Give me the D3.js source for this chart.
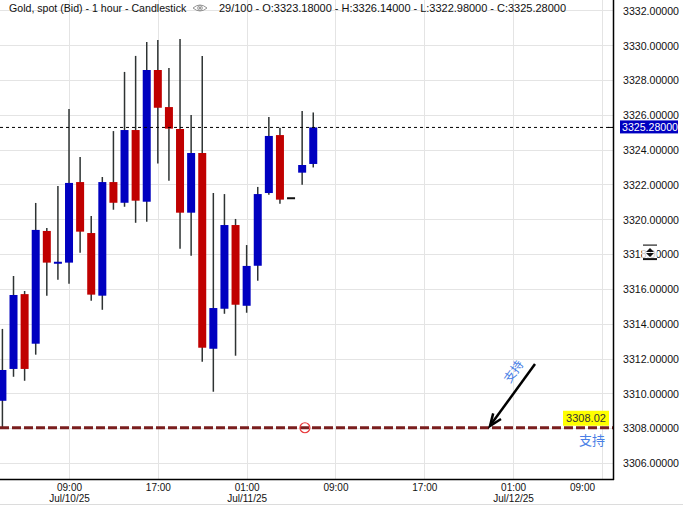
<!DOCTYPE html>
<html><head><meta charset="utf-8">
<script src="https://cdn.jsdelivr.net/npm/d3@7"></script>
<style>
html,body{margin:0;padding:0;background:#fff;}
svg{display:block;font-family:"Liberation Sans",Arial,sans-serif;}
</style></head>
<body><svg id="c" width="683" height="505"></svg>
<script>
// ---- data ----
const times = ["2025-07-10T03:00","2025-07-10T04:00","2025-07-10T05:00","2025-07-10T06:00","2025-07-10T07:00","2025-07-10T08:00","2025-07-10T09:00","2025-07-10T10:00","2025-07-10T11:00","2025-07-10T12:00","2025-07-10T13:00","2025-07-10T14:00","2025-07-10T15:00","2025-07-10T16:00","2025-07-10T17:00","2025-07-10T18:00","2025-07-10T19:00","2025-07-10T20:00","2025-07-10T21:00","2025-07-10T22:00","2025-07-10T23:00","2025-07-11T00:00","2025-07-11T01:00","2025-07-11T02:00","2025-07-11T03:00","2025-07-11T04:00","2025-07-11T05:00","2025-07-11T06:00","2025-07-11T07:00"];
const open  = [3309.57,3311.40,3315.70,3312.85,3319.33,3317.45,3317.51,3322.14,3319.21,3315.61,3322.14,3320.95,3325.13,3321.01,3328.58,3326.45,3325.19,3320.38,3323.81,3312.56,3314.86,3319.67,3315.03,3317.33,3321.51,3324.84,3321.21,3322.68,3323.18];
const high  = [3313.70,3316.74,3315.88,3320.94,3319.50,3321.91,3326.34,3323.58,3320.19,3322.43,3325.07,3328.47,3329.39,3330.19,3330.30,3328.70,3330.36,3325.99,3329.39,3321.51,3321.45,3320.02,3318.52,3321.86,3325.88,3325.26,3321.21,3326.22,3326.14];
const low   = [3308.05,3310.95,3310.72,3312.22,3315.61,3316.53,3316.30,3318.08,3315.32,3314.80,3320.55,3320.72,3319.80,3319.86,3323.20,3322.22,3318.31,3317.91,3311.82,3310.09,3314.57,3312.16,3314.63,3316.47,3321.41,3320.90,3321.21,3321.99,3322.98];
const close = [3311.34,3315.65,3311.40,3319.39,3317.51,3317.56,3322.09,3319.29,3315.67,3322.14,3320.95,3325.13,3321.07,3328.58,3326.41,3325.21,3320.38,3323.81,3312.62,3314.90,3319.67,3315.09,3317.32,3321.45,3324.79,3321.13,3321.21,3323.12,3325.28];
const yTicks = [3306,3308,3310,3312,3314,3316,3318,3320,3322,3324,3326,3328,3330,3332];
const xTicks = ["2025-07-10T09:00","2025-07-10T17:00","2025-07-11T01:00","2025-07-11T09:00","2025-07-11T17:00","2025-07-12T01:00","2025-07-12T09:00"];
const lastPrice = 3325.28;
const supportPrice = 3308.02;
const supportTime = "2025-07-11T06:15";
const headerA = "Gold, spot (Bid) - 1 hour - Candlestick";
const headerB = "29/100 - O:3323.18000 - H:3326.14000 - L:3322.98000 - C:3325.28000";
const supportText = "支持";

// ---- layout ----
const W = 613, H = 479;
const svg = d3.select("#c");
const parse = d3.timeParse("%Y-%m-%dT%H:%M");
const x = d3.scaleTime().domain([parse("2025-07-10T02:47"), parse("2025-07-12T10:00")]).range([0, W]);
const y = d3.scaleLinear().domain([3305.075, 3332.603]).range([H, 0]);
const data = times.map((t,i)=>({t:parse(t),o:open[i],h:high[i],l:low[i],c:close[i]}));

// grid
const g = svg.append("g");
g.selectAll(".hg").data(yTicks).join("line")
  .attr("x1",0).attr("x2",W).attr("y1",d=>Math.round(y(d))+0.5).attr("y2",d=>Math.round(y(d))+0.5)
  .attr("stroke","#e4e4e4").attr("stroke-width",1);
g.selectAll(".vg").data(xTicks.map(parse)).join("line")
  .attr("y1",0).attr("y2",H).attr("x1",d=>Math.round(x(d))+0.5).attr("x2",d=>Math.round(x(d))+0.5)
  .attr("stroke","#e4e4e4").attr("stroke-width",1);

// header
const hdr = svg.append("g").attr("font-size","10.6px").attr("fill","#111");
hdr.append("text").attr("x",9).attr("y",12).text(headerA);
// eye icon
const eye = hdr.append("g").attr("transform","translate(200,8)").attr("fill","none").attr("stroke","#888").attr("stroke-width",0.9);
eye.append("path").attr("d","M-7,0 Q0,-6 7,0 Q0,6 -7,0Z");
eye.append("circle").attr("r",2.3);
eye.append("circle").attr("r",0.8).attr("fill","#888");
hdr.append("text").attr("x",219).attr("y",12).attr("font-size","11px").attr("textLength",347).attr("lengthAdjust","spacing").text(headerB);

// candles
const bw = 8;
const cg = svg.append("g");
cg.selectAll(".wick").data(data).join("line")
  .attr("x1",d=>x(d.t)).attr("x2",d=>x(d.t)).attr("y1",d=>y(d.h)).attr("y2",d=>y(d.l))
  .attr("stroke","#2e3333").attr("stroke-width",1.5);
cg.selectAll(".body").data(data).join("rect")
  .attr("x",d=>x(d.t)-bw/2).attr("width",bw)
  .attr("y",d=>d.o===d.c ? y(d.o)-1 : y(Math.max(d.o,d.c)))
  .attr("height",d=>d.o===d.c ? 2 : Math.max(2, Math.abs(y(d.o)-y(d.c))))
  .attr("fill",d=>d.c>d.o ? "#0000c0" : (d.c<d.o ? "#c00000" : "#111"));

// last price dashed line
svg.append("line").attr("x1",0).attr("x2",W).attr("y1",y(lastPrice)).attr("y2",y(lastPrice))
  .attr("stroke","#000").attr("stroke-width",1).attr("stroke-dasharray","3,3");

// support line
svg.append("line").attr("x1",0).attr("x2",W).attr("y1",y(supportPrice)).attr("y2",y(supportPrice))
  .attr("stroke","#7a1e1e").attr("stroke-width",3).attr("stroke-dasharray","9,3");
svg.append("circle").attr("cx",x(parse(supportTime))).attr("cy",y(supportPrice)).attr("r",5)
  .attr("fill","none").attr("stroke","#e8383a").attr("stroke-width",1.2);
// yellow label
const sy = y(supportPrice);
svg.append("rect").attr("x",563).attr("y",sy-17).attr("width",46).attr("height",15).attr("fill","#ffff00");
svg.append("text").attr("x",586).attr("y",sy-5.5).attr("text-anchor","middle").attr("font-size","11px").attr("fill","#333").text(supportPrice.toFixed(2));
svg.append("text").attr("x",592).attr("y",sy+17).attr("text-anchor","middle").attr("font-size","13px").attr("fill","#4a7fe6")
  .attr("font-family","'Noto Sans CJK SC',sans-serif").text(supportText);

// arrow
const ax1=535, ay1=364, ax2=490, ay2=426;
svg.append("line").attr("x1",ax1).attr("y1",ay1).attr("x2",ax2+2).attr("y2",ay2-3).attr("stroke","#000").attr("stroke-width",2.5);
const ang = Math.atan2(ay2-ay1, ax2-ax1);
const hl = 13, ha = 0.38;
svg.append("path").attr("d",`M${ax2+hl*Math.cos(ang+Math.PI-ha)},${ay2+hl*Math.sin(ang+Math.PI-ha)} L${ax2},${ay2} L${ax2+hl*Math.cos(ang+Math.PI+ha)},${ay2+hl*Math.sin(ang+Math.PI+ha)}`)
  .attr("fill","none").attr("stroke","#000").attr("stroke-width",2.5);
svg.append("text").attr("transform",`translate(517,374) rotate(-54.5)`).attr("text-anchor","middle")
  .attr("font-size","12px").attr("fill","#4a7fe6").attr("font-family","'Noto Sans CJK SC',sans-serif").text(supportText);

// axes borders
svg.append("line").attr("x1",W+0.5).attr("x2",W+0.5).attr("y1",0).attr("y2",H+1).attr("stroke","#000").attr("stroke-width",1.5);
svg.append("line").attr("x1",0).attr("x2",W+1).attr("y1",H+0.5).attr("y2",H+0.5).attr("stroke","#000").attr("stroke-width",1.5);

// y axis labels
const yAxis = d3.axisRight(y).tickValues(yTicks).tickSize(0).tickPadding(0).tickFormat(d=>d.toFixed(5));
const ya = svg.append("g").attr("transform",`translate(623,0)`).call(yAxis);
ya.select(".domain").remove();
ya.selectAll("text").attr("font-size","10.6px").attr("fill","#111").attr("font-family","'Liberation Sans',Arial,sans-serif").attr("dy","0.35em");

// last price box
const ly = y(lastPrice);
svg.append("line").attr("x1",608).attr("x2",W).attr("y1",ly).attr("y2",ly).attr("stroke","#000");
svg.append("rect").attr("x",620).attr("y",ly-7).attr("width",58).attr("height",13).attr("fill","#0000c0");
svg.append("text").attr("x",622).attr("y",ly+4).attr("font-size","10.6px").attr("fill","#fff").text(lastPrice.toFixed(5));

// icon over 3318
const iy = y(3318);
svg.append("rect").attr("x",642).attr("y",iy-9).attr("width",15).attr("height",16).attr("fill","#fff").attr("opacity",0.75);
svg.append("line").attr("x1",643).attr("x2",657).attr("y1",iy-9).attr("y2",iy-9).attr("stroke","#222").attr("stroke-width",1.2);
svg.append("line").attr("x1",643).attr("x2",657).attr("y1",iy+5).attr("y2",iy+5).attr("stroke","#111").attr("stroke-width",2);
svg.append("path").attr("d",`M650,${iy-6} L654,${iy-2} L646,${iy-2}Z M646,${iy-1} L654,${iy-1} L650,${iy+3}Z`).attr("fill","#111");

// x axis labels
const xa = svg.append("g").attr("transform",`translate(0,${H})`)
  .call(d3.axisBottom(x).tickValues(xTicks.map(parse)).tickSize(0).tickFormat(""));
xa.select(".domain").remove();
xa.selectAll(".tick").each(function(d,i){
  const t = d3.select(this);
  const px = x(d);
  const shift = Math.min(0, (W-31) - px);
  const mk = (yy, s) => t.append("text").attr("fill","#111").attr("font-size","10px").attr("text-anchor","middle")
    .attr("font-family","'Liberation Sans',Arial,sans-serif").attr("x",shift).attr("y",yy).text(s);
  mk(12, d3.timeFormat("%H:%M")(d));
  if (i===0 || d.getHours()===1) mk(23.3, d3.timeFormat("%b/%d/%y")(d));
});

// bottom gray line
svg.append("line").attr("x1",0).attr("x2",683).attr("y1",504.5).attr("y2",504.5).attr("stroke","#dcdcdc");
</script></body></html>
